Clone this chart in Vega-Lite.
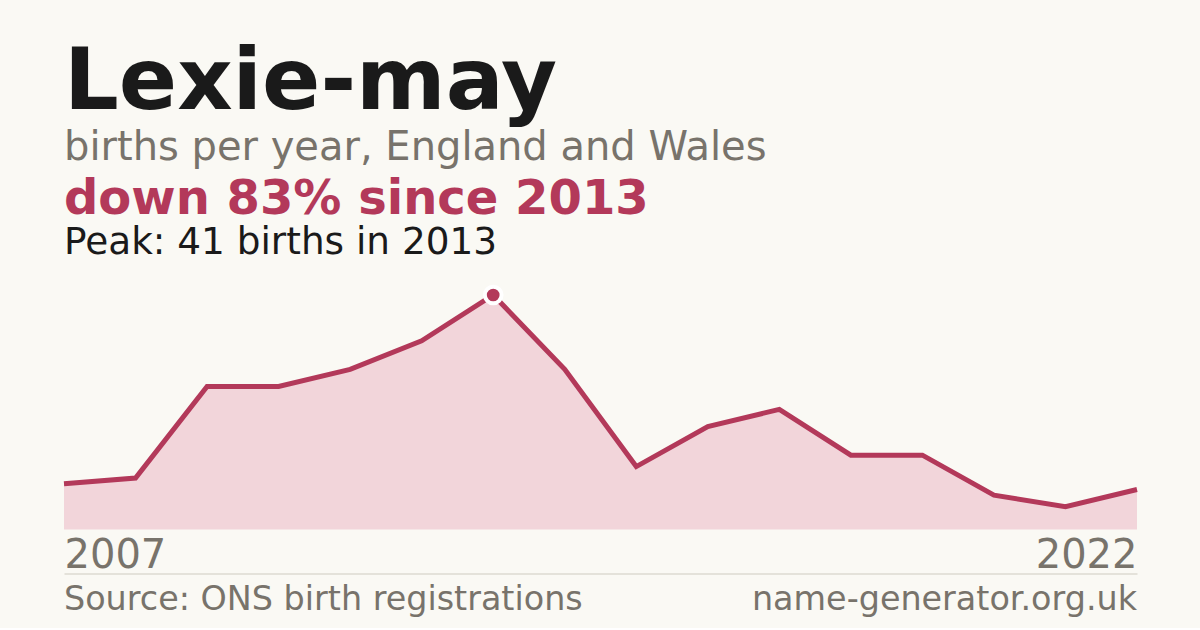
{
  "$schema": "https://vega.github.io/schema/vega-lite/v6.json",
  "background": "#FAF9F4",
  "padding": {"left": 54, "right": 53, "top": 40, "bottom": 12},
  "config": {
    "view": {"stroke": null},
    "font": "DejaVu Sans"
  },
  "title": {
    "text": "Lexie-may",
    "subtitle": "births per year, England and Wales",
    "anchor": "start",
    "frame": "group",
    "font": "DejaVu Sans",
    "fontSize": 86,
    "fontWeight": "bold",
    "color": "#1A1A1A",
    "subtitleFont": "DejaVu Sans",
    "subtitleFontSize": 40,
    "subtitleColor": "#78736B",
    "subtitlePadding": 0.5,
    "offset": 7
  },
  "bounds": "flush",
  "spacing": 43.5,
  "vconcat": [
    {
      "width": 1073,
      "height": 234.5,
      "title": {
        "text": "down 83% since 2013",
        "subtitle": "Peak: 41 births in 2013",
        "anchor": "start",
        "frame": "group",
        "font": "DejaVu Sans",
        "fontSize": 48,
        "fontWeight": "bold",
        "color": "#B3395A",
        "subtitleFont": "DejaVu Sans",
        "subtitleFontSize": 37.4,
        "subtitleColor": "#1A1A1A",
        "subtitlePadding": 0.5,
        "offset": 17
      },
      "data": {
        "values": [
          {"year": 2007, "births": 8},
          {"year": 2008, "births": 9},
          {"year": 2009, "births": 25},
          {"year": 2010, "births": 25},
          {"year": 2011, "births": 28},
          {"year": 2012, "births": 33},
          {"year": 2013, "births": 41},
          {"year": 2014, "births": 28},
          {"year": 2015, "births": 11},
          {"year": 2016, "births": 18},
          {"year": 2017, "births": 21},
          {"year": 2018, "births": 13},
          {"year": 2019, "births": 13},
          {"year": 2020, "births": 6},
          {"year": 2021, "births": 4},
          {"year": 2022, "births": 7}
        ]
      },
      "encoding": {
        "x": {
          "field": "year",
          "type": "quantitative",
          "scale": {"domain": [2007, 2022], "nice": false, "zero": false},
          "axis": {
            "values": [2007, 2022],
            "format": "d",
            "labelFlush": true,
            "domain": false,
            "ticks": false,
            "grid": false,
            "title": null,
            "labelFont": "DejaVu Sans",
            "labelFontSize": 40,
            "labelColor": "#78736B",
            "labelPadding": 5.5
          }
        },
        "y": {
          "field": "births",
          "type": "quantitative",
          "scale": {"domain": [0, 41], "nice": false},
          "axis": null
        }
      },
      "layer": [
        {"mark": {"type": "area", "color": "#F2D5DA"}},
        {"mark": {"type": "line", "color": "#B3395A", "strokeWidth": 5}},
        {
          "transform": [{"filter": "datum.year == 2013"}],
          "mark": {
            "type": "circle",
            "size": 280,
            "color": "#B3395A",
            "opacity": 1,
            "stroke": "#FFFFFF",
            "strokeWidth": 4
          }
        }
      ]
    },
    {
      "width": 1073,
      "height": 40,
      "data": {
        "values": [
          {"pos": 0, "label": "Source: ONS birth registrations"},
          {"pos": 1, "label": "name-generator.org.uk"}
        ]
      },
      "encoding": {
        "x": {
          "field": "pos",
          "type": "quantitative",
          "scale": {"domain": [0, 1], "nice": false},
          "axis": {
            "orient": "top",
            "domain": true,
            "domainColor": "#DDDAD2",
            "domainWidth": 1.5,
            "labels": false,
            "ticks": false,
            "grid": false,
            "title": null
          }
        },
        "text": {"field": "label", "type": "nominal"}
      },
      "layer": [
        {
          "transform": [{"filter": "datum.pos == 0"}],
          "mark": {"type": "text", "align": "left", "baseline": "alphabetic", "dy": 16, "fontSize": 33.4, "color": "#78736B"}
        },
        {
          "transform": [{"filter": "datum.pos == 1"}],
          "mark": {"type": "text", "align": "right", "baseline": "alphabetic", "dy": 16, "fontSize": 33.4, "color": "#78736B"}
        }
      ]
    }
  ]
}
